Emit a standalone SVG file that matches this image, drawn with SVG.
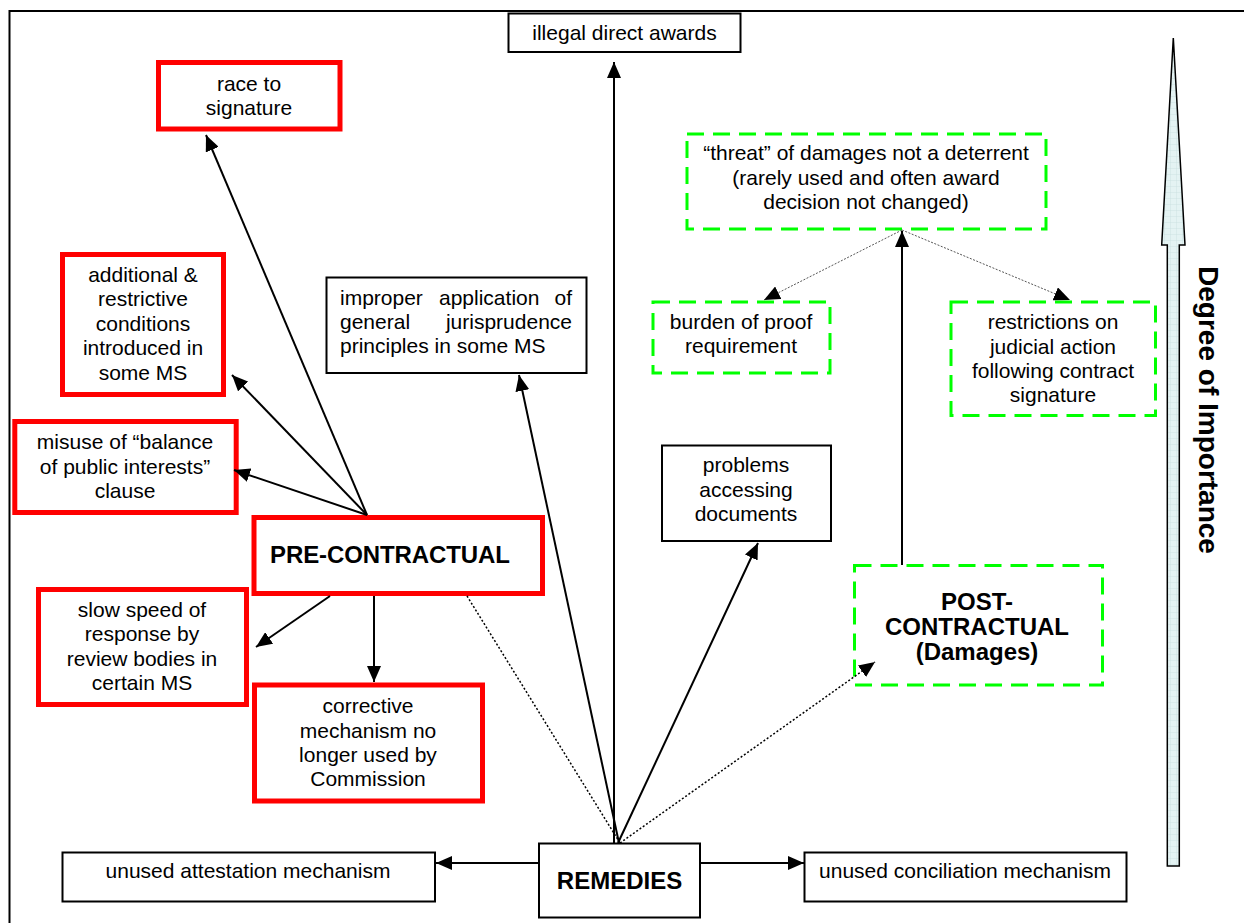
<svg xmlns="http://www.w3.org/2000/svg" width="1244" height="923" viewBox="0 0 1244 923">
<defs>
<style>
.t{font-family:"Liberation Sans",Arial,sans-serif;font-size:21px;fill:#000;text-anchor:middle}
.tl{font-family:"Liberation Sans",Arial,sans-serif;font-size:21px;fill:#000}
.b{font-family:"Liberation Sans",Arial,sans-serif;font-size:24px;font-weight:bold;fill:#000;text-anchor:middle}
.blk{fill:#fff;stroke:#000;stroke-width:2}
.red{fill:#fff;stroke:#ff0000;stroke-width:5}
.grn{fill:#fff;stroke:#00ff00;stroke-width:3;stroke-dasharray:17 9}
.ln{stroke:#000;stroke-width:2;fill:none}
.dot{stroke:#000;stroke-width:1.5;stroke-dasharray:2 2;fill:none}
.dotg{stroke:#555;stroke-width:1;stroke-dasharray:2 1.5;fill:none}
</style>
<marker id="ah" markerUnits="userSpaceOnUse" markerWidth="16" markerHeight="14" refX="16" refY="7" orient="auto">
<path d="M0,0 L16,7 L0,14 z" fill="#000"/>
</marker>
<pattern id="grid" width="6" height="6" patternUnits="userSpaceOnUse">
<rect width="6" height="6" fill="#e4f3f3"/>
<path d="M0,0 H6 M0,0 V6" stroke="#c9dede" stroke-width="0.8"/>
</pattern>
</defs>
<rect x="0" y="0" width="1244" height="923" fill="#fff"/>
<rect x="9.5" y="11" width="1300" height="1000" fill="none" stroke="#000" stroke-width="2"/>

<g id="importance">
<polygon points="1173.3,38 1185,245 1179.3,245 1179.3,866 1167.3,866 1167.3,245 1161.7,245" fill="url(#grid)" stroke="#000" stroke-width="1.5"/>
<text transform="translate(1199,410) rotate(90)" font-family="Liberation Sans, Arial, sans-serif" font-size="28" font-weight="bold" text-anchor="middle">Degree of Importance</text>
</g>

<g id="illegal">
<rect class="blk" x="508.5" y="13.5" width="232" height="38.5"/>
<text class="t" x="624.5" y="40">illegal direct awards</text>
</g>

<g id="race">
<rect class="red" x="158.5" y="62.5" width="181.5" height="66.5"/>
<text class="t" x="249" y="91">race to</text>
<text class="t" x="249" y="115">signature</text>
</g>

<g id="additional">
<rect class="red" x="62.5" y="254.5" width="161" height="140"/>
<text class="t" x="143" y="281.5">additional &amp;</text>
<text class="t" x="143" y="306">restrictive</text>
<text class="t" x="143" y="330.5">conditions</text>
<text class="t" x="143" y="355">introduced in</text>
<text class="t" x="143" y="380">some MS</text>
</g>

<g id="misuse">
<rect class="red" x="14.8" y="421.5" width="221.4" height="91"/>
<text class="t" x="125" y="449">misuse of “balance</text>
<text class="t" x="125" y="474">of public interests”</text>
<text class="t" x="125" y="498">clause</text>
</g>

<g id="precontractual">
<rect class="red" x="254" y="517.5" width="288.5" height="76"/>
<text class="b" x="390" y="563" textLength="240">PRE-CONTRACTUAL</text>
</g>

<g id="slow">
<rect class="red" x="38.5" y="589.5" width="208" height="115"/>
<text class="t" x="142" y="616.5">slow speed of</text>
<text class="t" x="142" y="641">response by</text>
<text class="t" x="142" y="666">review bodies in</text>
<text class="t" x="142" y="690">certain MS</text>
</g>

<g id="corrective">
<rect class="red" x="254.5" y="685" width="228" height="116"/>
<text class="t" x="368" y="713">corrective</text>
<text class="t" x="368" y="737.5">mechanism no</text>
<text class="t" x="368" y="762">longer used by</text>
<text class="t" x="368" y="786">Commission</text>
</g>

<g id="improper">
<rect class="blk" x="326.5" y="277.5" width="260" height="95.5"/>
<text class="tl" x="340" y="305">improper</text>
<text class="tl" x="439" y="305">application</text>
<text class="tl" x="572" y="305" text-anchor="end">of</text>
<text class="tl" x="340" y="329">general</text>
<text class="tl" x="572" y="329" text-anchor="end">jurisprudence</text>
<text class="tl" x="340" y="353">principles in some MS</text>
</g>

<g id="problems">
<rect class="blk" x="662" y="445.5" width="169" height="95.5"/>
<text class="t" x="746" y="472">problems</text>
<text class="t" x="746" y="496.5">accessing</text>
<text class="t" x="746" y="521">documents</text>
</g>

<g id="threat">
<rect class="grn" x="687" y="134" width="359" height="95"/>
<text class="t" x="866" y="160">“threat” of damages not a deterrent</text>
<text class="t" x="866" y="185">(rarely used and often award</text>
<text class="t" x="866" y="209">decision not changed)</text>
</g>

<g id="burden">
<rect class="grn" x="653" y="302" width="177" height="71"/>
<text class="t" x="741" y="328.5">burden of proof</text>
<text class="t" x="741" y="352.5">requirement</text>
</g>

<g id="restrictions">
<rect class="grn" x="951" y="302" width="204.5" height="113.5"/>
<text class="t" x="1053" y="329">restrictions on</text>
<text class="t" x="1053" y="353.5">judicial action</text>
<text class="t" x="1053" y="377.5">following contract</text>
<text class="t" x="1053" y="401.5">signature</text>
</g>

<g id="postcontractual">
<rect class="grn" x="854.5" y="565.5" width="248" height="119.5"/>
<text class="b" x="977" y="610">POST-</text>
<text class="b" x="977" y="635">CONTRACTUAL</text>
<text class="b" x="977" y="660">(Damages)</text>
</g>

<g id="attestation">
<rect class="blk" x="62.5" y="852.5" width="372.5" height="49"/>
<text class="t" x="248" y="878">unused attestation mechanism</text>
</g>

<g id="remedies">
<rect class="blk" x="539" y="843.5" width="161" height="74"/>
<text class="b" x="619.5" y="888.5">REMEDIES</text>
</g>

<g id="conciliation">
<rect class="blk" x="804.5" y="852.5" width="322" height="49"/>
<text class="t" x="965" y="878">unused conciliation mechanism</text>
</g>

<g id="connectors">
<line class="ln" x1="614" y1="843" x2="614" y2="62" marker-end="url(#ah)"/>
<line class="ln" x1="619" y1="843" x2="519" y2="375" marker-end="url(#ah)"/>
<line class="ln" x1="618" y1="843" x2="758" y2="543" marker-end="url(#ah)"/>
<line class="dot" x1="620" y1="843" x2="875" y2="662" marker-end="url(#ah)"/>
<line class="dot" x1="467" y1="596" x2="620" y2="843"/>
<line class="ln" x1="539" y1="863" x2="436" y2="863" marker-end="url(#ah)"/>
<line class="ln" x1="700" y1="863" x2="804" y2="863" marker-end="url(#ah)"/>
<line class="ln" x1="367" y1="515" x2="206" y2="135" marker-end="url(#ah)"/>
<line class="ln" x1="367" y1="515" x2="232" y2="375" marker-end="url(#ah)"/>
<line class="ln" x1="367" y1="515" x2="234" y2="470" marker-end="url(#ah)"/>
<line class="ln" x1="330" y1="596" x2="256" y2="647" marker-end="url(#ah)"/>
<line class="ln" x1="374" y1="596" x2="374" y2="682" marker-end="url(#ah)"/>
<line class="ln" x1="902" y1="565" x2="902" y2="231" marker-end="url(#ah)"/>
<line class="dotg" x1="902" y1="230" x2="764" y2="300" marker-end="url(#ah)"/>
<line class="dotg" x1="902" y1="230" x2="1070" y2="300" marker-end="url(#ah)"/>
</g>
</svg>
